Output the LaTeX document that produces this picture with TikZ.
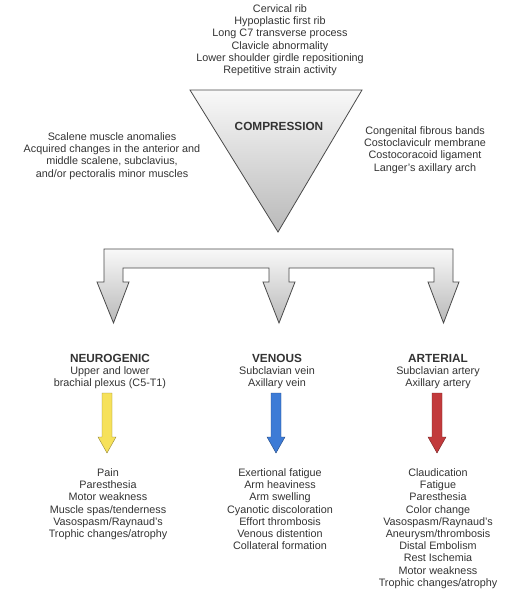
\documentclass[tikz,border=0pt]{standalone}
\usepackage{fontspec}
\setmainfont{Liberation Sans}
\usetikzlibrary{positioning}
\definecolor{ink}{HTML}{333333}
\definecolor{edge}{HTML}{4A4A4A}
\definecolor{neuroyellow}{HTML}{F6E15A}
\definecolor{venousblue}{HTML}{3D7BD6}
\definecolor{arterialred}{HTML}{C23A3C}
\tikzset{
    txt/.style={align=center,text=ink,inner sep=0pt,font=\fontsize{10.8}{12.2}\selectfont},
    hd/.style={align=center,text=ink,inner sep=0pt,font=\fontsize{11.8}{13}\selectfont\bfseries},
    greyshade/.style={draw=edge,line width=0.8pt,top color=gray!5,bottom color=gray!55,line join=miter},
}
\begin{document}
\begin{tikzpicture}[x=1pt,y=-1pt]
    \useasboundingbox (0,0) rectangle (525,600);

    % compression funnel
    \coordinate (tl) at (190,90);
    \coordinate (tr) at (362,90);
    \coordinate (apex) at (278,232);
    \draw [greyshade] (tl) -- (tr) -- (apex) -- cycle;
    \node [hd] (comp) at (279,126) {COMPRESSION};

    \node [txt,anchor=north] (bony) at (280,4.5) {Cervical rib\\Hypoplastic first rib\\Long C7 transverse process\\Clavicle abnormality\\Lower shoulder girdle repositioning\\Repetitive strain activity};
    \node [txt,anchor=north] (muscle) at (112,132.5) {Scalene muscle anomalies\\Acquired changes in the anterior and\\middle scalene, subclavius,\\and/or pectoralis minor muscles};
    \node [txt,anchor=north] (bands) at (425,126.5) {Congenital fibrous bands\\Costoclaviculr membrane\\Costocoracoid ligament\\Langer's axillary arch};

    % branching arrow
    \draw [greyshade] (104,249) -- (453,249) -- (453,282) -- (459,282) -- (443.5,323) -- (428,282) -- (434,282)
        -- (434,268) -- (289,268) -- (289,282) -- (295,282) -- (279,323) -- (263,282) -- (269,282)
        -- (269,268) -- (123,268) -- (123,282) -- (129,282) -- (113.5,323) -- (97,282) -- (104,282) -- cycle;

    % three types
    \node [hd] (neuro) at (110,358) {NEUROGENIC};
    \node [txt,below=4pt of neuro] (neurosub) {Upper and lower\\brachial plexus (C5-T1)};
    \node [hd] (venous) at (277,358) {VENOUS};
    \node [txt,below=4pt of venous] (venoussub) {Subclavian vein\\Axillary vein};
    \node [hd] (arterial) at (438,358) {ARTERIAL};
    \node [txt,below=4pt of arterial] (arterialsub) {Subclavian artery\\Axillary artery};

    \draw [draw=neuroyellow!60!black,fill=neuroyellow,line join=miter] (102,393) -- (112,393) -- (112,437) -- (116,437) -- (107,453) -- (98,437) -- (102,437) -- cycle;
    \draw [draw=venousblue!60!black,fill=venousblue,line join=miter] (271,393) -- (281,393) -- (281,437) -- (285,437) -- (276,453) -- (267,437) -- (271,437) -- cycle;
    \draw [draw=arterialred!60!black,fill=arterialred,line join=miter] (432,393) -- (442,393) -- (442,437) -- (446,437) -- (437,453) -- (428,437) -- (432,437) -- cycle;

    % symptoms
    \node [txt,anchor=north] (neurolist) at (108,468.5) {Pain\\Paresthesia\\Motor weakness\\Muscle spas/tenderness\\Vasospasm/Raynaud's\\Trophic changes/atrophy};
    \node [txt,anchor=north] (venouslist) at (280,468.5) {Exertional fatigue\\Arm heaviness\\Arm swelling\\Cyanotic discoloration\\Effort thrombosis\\Venous distention\\Collateral formation};
    \node [txt,anchor=north] (arteriallist) at (438,468.5) {Claudication\\Fatigue\\Paresthesia\\Color change\\Vasospasm/Raynaud's\\Aneurysm/thrombosis\\Distal Embolism\\Rest Ischemia\\Motor weakness\\Trophic changes/atrophy};
\end{tikzpicture}
\end{document}
